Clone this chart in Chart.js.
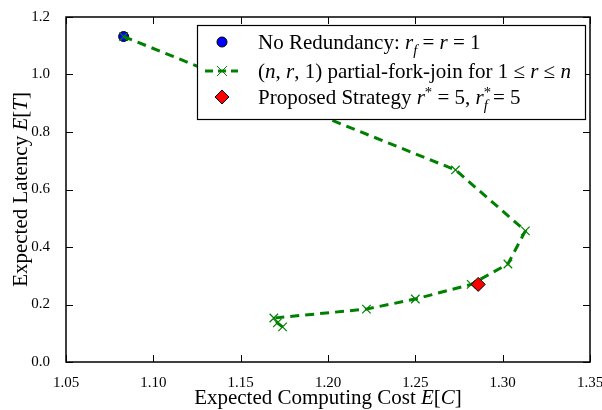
<!DOCTYPE html>
<html>
<head>
<meta charset="utf-8">
<script src="https://cdn.jsdelivr.net/npm/chart.js@4.4.1/dist/chart.umd.min.js"></script>
<style>
  html, body { margin: 0; padding: 0; background: #fff; }
  #wrap { width: 602px; height: 410px; }
</style>
</head>
<body>
<div id="wrap"><canvas id="chart" width="602" height="410"></canvas></div>
<script>
// data
const noRedundancy = [{ x: 1.083, y: 1.132 }];
const forkJoinCost = [1.083, 1.273, 1.313, 1.303, 1.282, 1.250, 1.222, 1.169, 1.171, 1.174];
const forkJoinLatency = [1.132, 0.668, 0.456, 0.341, 0.270, 0.219, 0.184, 0.153, 0.136, 0.122];
const proposed = [{ x: 1.286, y: 0.270 }];

const xTicks = [1.05, 1.10, 1.15, 1.20, 1.25, 1.30, 1.35];
const yTicks = [0.0, 0.2, 0.4, 0.6, 0.8, 1.0, 1.2];

const SERIF = '"Liberation Serif", "DejaVu Serif", serif';

// draws text made of roman / italic / sub / sup pieces
function drawRich(ctx, parts, x, y, size) {
    let cx = x;
    parts.forEach(p => {
        const [txt, st] = p;
        let fs = size, dy = 0, style = '';
        if (st === 'i') style = 'italic ';
        if (st === 'sub') { fs = size * 0.7; dy = size * 0.28; style = 'italic '; }
        if (st === 'sup') { fs = size * 0.7; dy = -size * 0.35; }
        ctx.font = style + fs + 'px ' + SERIF;
        ctx.fillText(txt, cx, y + dy);
        if (!p[2]) cx += ctx.measureText(txt).width;
    });
    return cx - x;
}

function richWidth(ctx, parts, size) {
    ctx.save();
    ctx.globalAlpha = 0;
    const w = drawRich(ctx, parts, 0, 0, size);
    ctx.restore();
    return w;
}

const frameAndExtras = {
    id: 'frameAndExtras',
    afterDraw(chart) {
        const ctx = chart.ctx;
        const a = chart.chartArea;
        const xs = chart.scales.x, ys = chart.scales.y;
        ctx.save();
        ctx.strokeStyle = '#000';
        ctx.lineWidth = 1;
        // inward ticks on all sides
        ctx.beginPath();
        xTicks.forEach(v => {
            const px = Math.round(xs.getPixelForValue(v)) + 0.5;
            ctx.moveTo(px, a.bottom); ctx.lineTo(px, a.bottom - 7);
            ctx.moveTo(px, a.top); ctx.lineTo(px, a.top + 7);
        });
        yTicks.forEach(v => {
            const py = Math.round(ys.getPixelForValue(v)) + 0.5;
            ctx.moveTo(a.left, py); ctx.lineTo(a.left + 7, py);
            ctx.moveTo(a.right, py); ctx.lineTo(a.right - 7, py);
        });
        ctx.stroke();
        ctx.lineWidth = 1.5;
        ctx.strokeRect(a.left, a.top, a.right - a.left, a.bottom - a.top);

        // axis titles
        ctx.fillStyle = '#000';
        ctx.textBaseline = 'alphabetic';
        const xt = [['Expected Computing Cost ', 'r'], ['E', 'i'], ['[', 'r'], ['C', 'i'], [']', 'r']];
        const xw = richWidth(ctx, xt, 21);
        drawRich(ctx, xt, (a.left + a.right) / 2 - xw / 2, 404, 21);
        const yt = [['Expected Latency ', 'r'], ['E', 'i'], ['[', 'r'], ['T', 'i'], [']', 'r']];
        const yw = richWidth(ctx, yt, 21);
        ctx.save();
        ctx.translate(27, (a.top + a.bottom) / 2);
        ctx.rotate(-Math.PI / 2);
        drawRich(ctx, yt, -yw / 2, 0, 21);
        ctx.restore();

        // legend
        const lx = 197, ly = 25, lw = 388, lh = 94;
        ctx.fillStyle = '#fff';
        ctx.fillRect(lx, ly, lw, lh);
        ctx.lineWidth = 1.2;
        ctx.strokeStyle = '#000';
        ctx.strokeRect(lx + 0.5, ly + 0.5, lw, lh);

        const rows = [49, 78, 104];
        const mx = 222, tx = 258, fs = 21;
        // blue circle
        ctx.beginPath();
        ctx.arc(mx, rows[0] - 7, 5, 0, Math.PI * 2);
        ctx.fillStyle = '#0000ff';
        ctx.fill();
        ctx.lineWidth = 1;
        ctx.stroke();
        // dashed green with cross
        ctx.strokeStyle = '#008000';
        ctx.lineWidth = 3;
        ctx.setLineDash([8, 5]);
        ctx.beginPath();
        ctx.moveTo(205, rows[1] - 7); ctx.lineTo(238, rows[1] - 7);
        ctx.stroke();
        ctx.setLineDash([]);
        ctx.lineWidth = 1;
        ctx.beginPath();
        ctx.moveTo(mx - 5, rows[1] - 12); ctx.lineTo(mx + 5, rows[1] - 2);
        ctx.moveTo(mx - 5, rows[1] - 2); ctx.lineTo(mx + 5, rows[1] - 12);
        ctx.stroke();
        // red diamond
        ctx.beginPath();
        ctx.moveTo(mx, rows[2] - 14); ctx.lineTo(mx + 7, rows[2] - 7);
        ctx.lineTo(mx, rows[2]); ctx.lineTo(mx - 7, rows[2] - 7);
        ctx.closePath();
        ctx.fillStyle = '#ff0000';
        ctx.fill();
        ctx.strokeStyle = '#000';
        ctx.stroke();

        ctx.fillStyle = '#000';
        drawRich(ctx, [['No Redundancy: ', 'r'], ['r', 'i'], ['f', 'sub'], [' = ', 'r'], ['r', 'i'], [' = 1', 'r']], tx, rows[0], fs);
        drawRich(ctx, [['(', 'r'], ['n', 'i'], [', ', 'r'], ['r', 'i'], [', 1) partial-fork-join for 1 \u2264 ', 'r'], ['r', 'i'], [' \u2264 ', 'r'], ['n', 'i']], tx, rows[1], fs);
        drawRich(ctx, [['Proposed Strategy ', 'r'], ['r', 'i'], ['*', 'sup'], [' = 5, ', 'r'], ['r', 'i'], ['*', 'sup', true], ['f', 'sub'], [' = 5', 'r']], tx, rows[2], fs);
        ctx.restore();
    }
};

const ctx = document.getElementById('chart').getContext('2d');

new Chart(ctx, {
    type: 'scatter',
    data: {
        datasets: [
            {
                label: 'Proposed Strategy',
                data: proposed,
                pointStyle: 'rectRot',
                pointRadius: 7,
                backgroundColor: '#ff0000',
                borderColor: '#000',
                borderWidth: 1
            },
            {
                label: '(n, r, 1) partial-fork-join',
                data: forkJoinCost.map((c, i) => ({ x: c, y: forkJoinLatency[i] })),
                showLine: true,
                borderColor: '#008000',
                borderWidth: 3,
                borderDash: [9, 6],
                pointStyle: 'crossRot',
                pointRadius: 6,
                pointBorderWidth: 1.2,
                pointBorderColor: '#008000',
                backgroundColor: '#008000'
            },
            {
                label: 'No Redundancy',
                data: noRedundancy,
                pointStyle: 'circle',
                pointRadius: 5,
                backgroundColor: '#0000ff',
                borderColor: '#000',
                borderWidth: 1
            }
        ]
    },
    options: {
        responsive: false,
        animation: false,
        layout: { padding: { top: 14, right: 0, left: 0, bottom: 0 } },
        plugins: { legend: { display: false }, tooltip: { enabled: false } },
        scales: {
            x: {
                type: 'linear',
                min: 1.05, max: 1.35,
                afterBuildTicks: s => { s.ticks = xTicks.map(v => ({ value: v })); },
                afterFit: s => { s.height = 48; s.paddingRight = 12; s.paddingLeft = 0; },
                grid: { display: false },
                border: { display: false },
                ticks: {
                    color: '#000',
                    padding: 4,
                    maxRotation: 0,
                    font: { family: SERIF, size: 15 },
                    callback: v => Number(v).toFixed(2)
                }
            },
            y: {
                type: 'linear',
                min: 0, max: 1.2,
                afterBuildTicks: s => { s.ticks = yTicks.map(v => ({ value: v })); },
                afterFit: s => { s.width = 66; },
                grid: { display: false },
                border: { display: false },
                ticks: {
                    color: '#000',
                    padding: 8,
                    font: { family: SERIF, size: 15 },
                    callback: v => Number(v).toFixed(1)
                }
            }
        }
    },
    plugins: [frameAndExtras]
});
</script>
</body>
</html>
